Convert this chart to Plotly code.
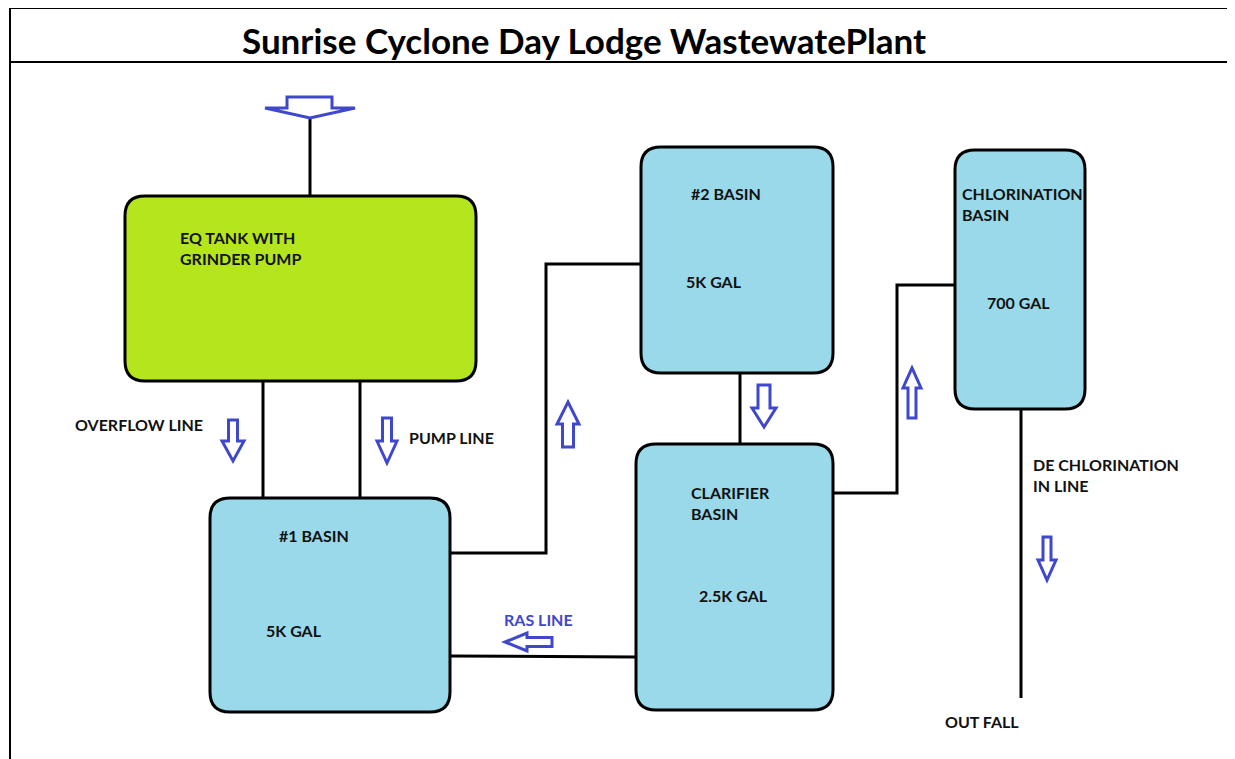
import plotly.graph_objects as go

# ---- content (texts) ----
title_text = "Sunrise Cyclone Day Lodge WastewatePlant"
tank_names = ["EQ TANK WITH<br>GRINDER PUMP", "#1 BASIN", "#2 BASIN", "CLARIFIER<br>BASIN", "CHLORINATION<br>BASIN"]
tank_volumes = ["", "5K GAL", "5K GAL", "2.5K GAL", "700 GAL"]
line_labels = ["OVERFLOW LINE", "PUMP LINE", "RAS LINE", "DE CHLORINATION<br>IN LINE", "OUT FALL"]

# ---- geometry (pixel space, y downwards) ----
W, H = 1235, 759
OFF = 8  # page body margin
tank_boxes = [(125, 196, 476, 381), (210, 498, 450, 712), (641, 147, 833, 373),
              (636, 444, 833, 710), (955, 150, 1085, 409)]
tank_fill = ["#B5E61D", "#99D9EA", "#99D9EA", "#99D9EA", "#99D9EA"]
name_pos = [(178, 238), (277, 536), (689, 194), (689, 493), (960, 194)]
vol_pos = [None, (264, 632), (684, 283), (697, 597), (985, 304)]
label_pos = [(73, 425), (407, 438), (502, 620), (1031, 465), (943, 722)]
label_color = ["#111111", "#111111", "#3F48CC", "#111111", "#111111"]

pipes = [
    [(310, 118), (310, 196)],
    [(263, 381), (263, 498)],
    [(360, 381), (360, 498)],
    [(450, 553), (546, 553), (546, 264), (641, 264)],
    [(740, 373), (740, 444)],
    [(636, 657), (450, 656)],
    [(833, 493), (897, 493), (897, 285), (955, 285)],
    [(1021, 409), (1021, 698)],
]

BLUE = "#3F48CC"


def rrect(x0, y0, x1, y1, r):
    return (f"M {x0+r},{y0} L {x1-r},{y0} Q {x1},{y0} {x1},{y0+r} "
            f"L {x1},{y1-r} Q {x1},{y1} {x1-r},{y1} L {x0+r},{y1} "
            f"Q {x0},{y1} {x0},{y1-r} L {x0},{y0+r} Q {x0},{y0} {x0+r},{y0} Z")


def varrow(cx, tail, tip, bw, hw, hl):
    d = 1 if tip > tail else -1
    base = tip - d * hl
    pts = [(cx - bw / 2, tail), (cx + bw / 2, tail), (cx + bw / 2, base), (cx + hw / 2, base),
           (cx, tip), (cx - hw / 2, base), (cx - bw / 2, base)]
    return "M " + " L ".join(f"{x},{y}" for x, y in pts) + " Z"


def harrow(cy, tail, tip, bh, hh, hl):
    d = 1 if tip > tail else -1
    base = tip - d * hl
    pts = [(tail, cy - bh / 2), (tail, cy + bh / 2), (base, cy + bh / 2), (base, cy + hh / 2),
           (tip, cy), (base, cy - hh / 2), (base, cy - bh / 2)]
    return "M " + " L ".join(f"{x},{y}" for x, y in pts) + " Z"


arrows = [
    "M 287,97 L 332,97 L 332,108 L 355,108 L 310,118 L 265,108 L 287,108 Z",
    varrow(233, 420, 461, 9, 22, 20),
    varrow(387, 418, 463, 9, 20, 22),
    varrow(568, 447, 402, 11, 22, 22),
    varrow(764, 385, 427, 12, 24, 19),
    varrow(912, 418, 368, 8, 18, 20),
    varrow(1047, 537, 580, 8, 18, 20),
    harrow(642, 552, 505, 9, 18, 22),
]

shapes = []
# frame
shapes.append(dict(type="line", x0=10, y0=8, x1=10, y1=H + 5, line=dict(color="black", width=2)))
shapes.append(dict(type="line", x0=10, y0=8, x1=W + 5, y1=8, line=dict(color="black", width=2)))
shapes.append(dict(type="line", x0=10, y0=62, x1=W + 5, y1=62, line=dict(color="black", width=2)))
# pipes
for p in pipes:
    path = "M " + " L ".join(f"{x},{y}" for x, y in p)
    shapes.append(dict(type="path", path=path, line=dict(color="black", width=3), layer="below"))
# tanks
for (x0, y0, x1, y1), c in zip(tank_boxes, tank_fill):
    shapes.append(dict(type="path", path=rrect(x0, y0, x1, y1, 20), fillcolor=c,
                       line=dict(color="black", width=3)))
# arrows
for a in arrows:
    shapes.append(dict(type="path", path=a, fillcolor="white", line=dict(color=BLUE, width=3)))

FONT = "Lato"
FS = 16
annotations = [dict(x=584, y=40, text=f"<b>{title_text}</b>", showarrow=False,
                    font=dict(family=FONT, size=35, color="black"), xanchor="center", yanchor="middle")]
for t, (x, y) in zip(tank_names, name_pos):
    annotations.append(dict(x=x, y=y - 12, text=f"<b>{t}</b>", showarrow=False, align="left",
                            font=dict(family=FONT, size=FS, color="#111111"),
                            xanchor="left", yanchor="top"))
for t, p in zip(tank_volumes, vol_pos):
    if p:
        annotations.append(dict(x=p[0], y=p[1] - 2, text=f"<b>{t}</b>", showarrow=False,
                                font=dict(family=FONT, size=FS, color="#111111"),
                                xanchor="left", yanchor="middle"))
for t, (x, y), c in zip(line_labels, label_pos, label_color):
    annotations.append(dict(x=x, y=y - 12, text=f"<b>{t}</b>", showarrow=False, align="left",
                            font=dict(family=FONT, size=FS, color=c),
                            xanchor="left", yanchor="top"))

fig = go.Figure()
fig.update_layout(
    width=W - OFF, height=H - OFF, margin=dict(l=0, r=0, t=0, b=0, pad=0),
    paper_bgcolor="white", plot_bgcolor="white",
    xaxis=dict(range=[OFF, W], visible=False, fixedrange=True),
    yaxis=dict(range=[H, OFF], visible=False, fixedrange=True),
    shapes=shapes, annotations=annotations, showlegend=False,
)
fig.write_html("out.html")
